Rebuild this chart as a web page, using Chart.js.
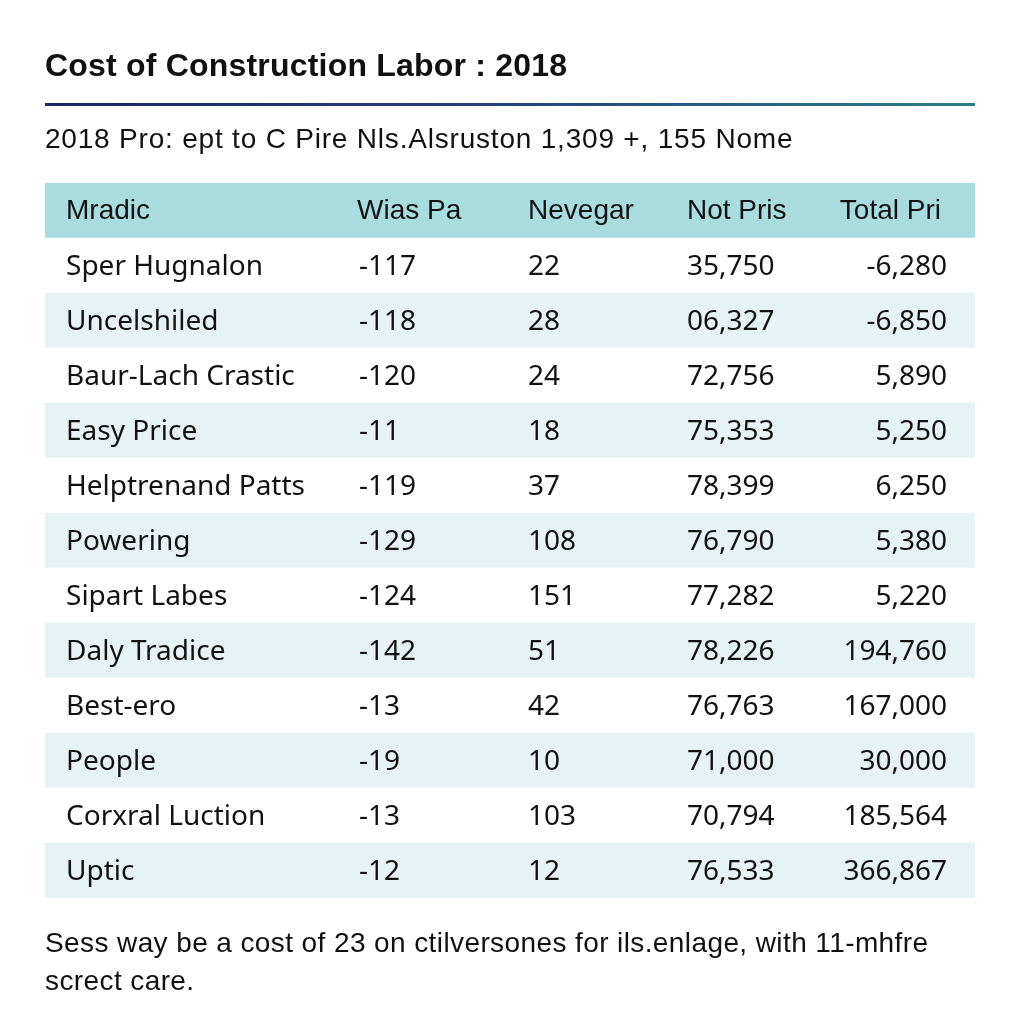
<!DOCTYPE html>
<html>
<head>
<meta charset="utf-8">
<script src="https://cdn.jsdelivr.net/npm/chart.js@4.4.1/dist/chart.umd.min.js"></script>
<style>
    html, body { margin: 0; padding: 0; background: #ffffff; }
    #wrap { position: relative; width: 1024px; height: 1024px; overflow: hidden; }
    #tableChart { position: absolute; left: 0; top: 0; }
    .txt { position: absolute; left: 45px; white-space: nowrap; color: #111; font-family: "Liberation Sans", Arial, sans-serif; line-height: 1; }
    #title { top: 49px; font-size: 32px; font-weight: bold; letter-spacing: 0.2px; }
    #rule { position: absolute; left: 45px; top: 103px; width: 930px; height: 3px; background: linear-gradient(to right, #1d2467, #243f78 45%, #2b7e86); }
    #subtitle { top: 125px; font-size: 28px; letter-spacing: 0.8px; }
    #footer { top: 924px; font-size: 28px; line-height: 38px; white-space: normal; width: 940px; letter-spacing: 0.4px; }
</style>
</head>
<body>
<div id="wrap">
    <canvas id="tableChart" width="1024" height="1024"></canvas>
    <div id="title" class="txt">Cost of Construction Labor : 2018</div>
    <div id="rule"></div>
    <div id="subtitle" class="txt">2018 Pro: ept to C Pire Nls.Alsruston 1,309 +, 155 Nome</div>
    <div id="footer" class="txt">Sess way be a cost of 23 on ctilversones for ils.enlage, with 11-mhfre<br>screct care.</div>
</div>
<script>
// Table contents
const headers = ['Mradic', 'Wias Pa', 'Nevegar', 'Not Pris', 'Total Pri'];
const names = ['Sper Hugnalon', 'Uncelshiled', 'Baur-Lach Crastic', 'Easy Price', 'Helptrenand Patts', 'Powering',
    'Sipart Labes', 'Daly Tradice', 'Best-ero', 'People', 'Corxral Luction', 'Uptic'];
const wiasPa = [-117, -118, -120, -11, -119, -129, -124, -142, -13, -19, -13, -12];
const nevegar = [22, 28, 24, 18, 37, 108, 151, 51, 42, 10, 103, 12];
const notPris = ['35,750', '06,327', '72,756', '75,353', '78,399', '76,790', '77,282', '78,226', '76,763', '71,000', '70,794', '76,533'];
const totalPri = ['-6,280', '-6,850', '5,890', '5,250', '6,250', '5,380', '5,220', '194,760', '167,000', '30,000', '185,564', '366,867'];

// Column anchors on the x scale (0 = table left, 1 = table right)
const colX = [0.0226, 0.3376, 0.5194, 0.6903, 0.9699];
const headX = [0.0226, 0.3355, 0.5194, 0.6903, 0.9634];
const colAlign = ['left', 'left', 'left', 'left', 'right'];

const rowLabels = [headers[0]].concat(names);
const bandColors = rowLabels.map(function (l, i) {
    if (i === 0) return '#a9dcdf';
    return i % 2 === 0 ? '#e7f2f4' : '#ffffff';
});

// draws the text of every cell at the scale positions
const cellText = {
    id: 'cellText',
    afterDatasetsDraw(chart) {
        const ctx = chart.ctx;
        const xs = chart.scales.x;
        const ys = chart.scales.y;
        ctx.save();
        ctx.textBaseline = 'middle';
        ctx.fillStyle = '#121212';
        ctx.font = '28px "Liberation Sans", Arial, sans-serif';
        headers.forEach(function (h, c) {
            ctx.textAlign = colAlign[c];
            ctx.fillText(h, xs.getPixelForValue(headX[c]), ys.getPixelForValue(0) + 1);
        });
        ctx.font = '28px "Noto Sans", sans-serif';
        names.forEach(function (n, r) {
            const y = ys.getPixelForValue(r + 1) + 2;
            const cells = [n, String(wiasPa[r]), String(nevegar[r]), notPris[r], totalPri[r]];
            cells.forEach(function (t, c) {
                ctx.textAlign = colAlign[c];
                ctx.fillText(t, xs.getPixelForValue(colX[c]), y);
            });
        });
        ctx.restore();
    }
};

new Chart(document.getElementById('tableChart'), {
    type: 'bar',
    data: {
        labels: rowLabels,
        datasets: [{
            data: rowLabels.map(function () { return [0, 1]; }),
            backgroundColor: bandColors,
            borderWidth: 0,
            barPercentage: 1,
            categoryPercentage: 1
        }]
    },
    options: {
        indexAxis: 'y',
        responsive: false,
        animation: false,
        layout: { padding: { left: 45, right: 49, top: 183, bottom: 126 } },
        scales: {
            x: { display: false, min: 0, max: 1 },
            y: { display: false }
        },
        plugins: {
            legend: { display: false },
            tooltip: { enabled: false }
        }
    },
    plugins: [cellText]
});
</script>
</body>
</html>
